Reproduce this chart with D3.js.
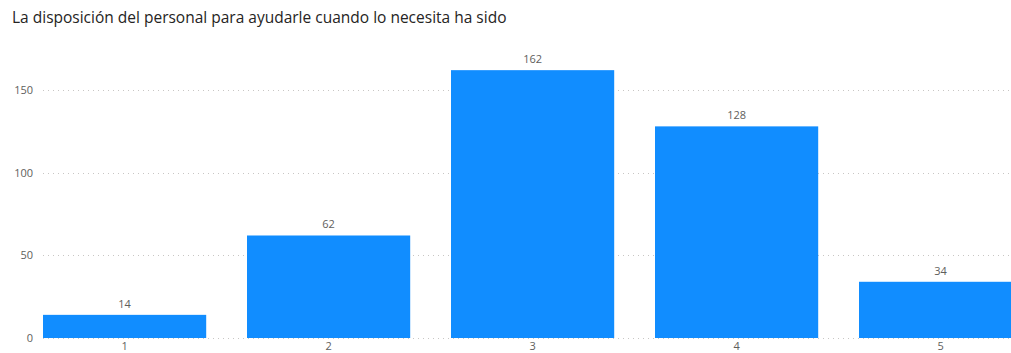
<!DOCTYPE html>
<html>
<head>
<meta charset="utf-8">
<script src="https://cdn.jsdelivr.net/npm/d3@7"></script>
<style>
  html, body { margin: 0; padding: 0; background: #fff; overflow: hidden; }
  svg { display: block; }
</style>
</head>
<body>
<svg id="chart" width="1011" height="353"></svg>
<script>
// Responses per rating
const categories = ["1", "2", "3", "4", "5"];
const counts = [14, 62, 162, 128, 34];
const yTicks = [0, 50, 100, 150];
const title = "La disposición del personal para ayudarle cuando lo necesita ha sido";

const svg = d3.select("#chart");
const W = 1011, H = 353;

const x = d3.scaleBand()
  .domain(categories)
  .range([22.6, 1042.6])
  .paddingInner(0.2)
  .paddingOuter(0.1);

const y = d3.scaleLinear()
  .domain([0, 150])
  .range([338, 90]);

// Title
svg.append("text")
  .attr("x", 12)
  .attr("y", 23)
  .attr("font-family", "'Open Sans', 'Noto Sans', sans-serif")
  .attr("font-size", 15.5)
  .attr("font-weight", 500)
  .attr("fill", "#252423")
  .text(title);

// Dotted gridlines
svg.append("g")
  .selectAll("line")
  .data(yTicks)
  .join("line")
  .attr("x1", 43)
  .attr("x2", W)
  .attr("y1", d => Math.round(y(d)) + 0.5)
  .attr("y2", d => Math.round(y(d)) + 0.5)
  .attr("stroke", "#c8c6c4")
  .attr("stroke-width", 1)
  .attr("stroke-dasharray", "1,4");

// Y axis labels
const yAxis = svg.append("g")
  .attr("transform", "translate(33,0)")
  .call(d3.axisLeft(y).tickValues(yTicks).tickSize(0).tickPadding(0));
yAxis.select(".domain").remove();
yAxis.selectAll("text")
  .attr("font-family", "'Open Sans', 'Noto Sans', sans-serif")
  .attr("font-size", 11)
  .attr("fill", "#605e5c");

// Bars
svg.append("g")
  .selectAll("rect")
  .data(counts)
  .join("rect")
  .attr("x", (d, i) => x(categories[i]))
  .attr("y", d => y(d))
  .attr("width", x.bandwidth())
  .attr("height", d => y(0) - y(d))
  .attr("fill", "#118dff");

// Value labels
svg.append("g")
  .selectAll("text")
  .data(counts)
  .join("text")
  .attr("x", (d, i) => x(categories[i]) + x.bandwidth() / 2)
  .attr("y", d => y(d) - 7)
  .attr("text-anchor", "middle")
  .attr("font-family", "'Open Sans', 'Noto Sans', sans-serif")
  .attr("font-size", 11)
  .attr("fill", "#605e5c")
  .text(d => d);

// X axis labels
const xAxis = svg.append("g")
  .attr("transform", "translate(0,342)")
  .call(d3.axisBottom(x).tickSize(0).tickPadding(0));
xAxis.select(".domain").remove();
xAxis.selectAll("text")
  .attr("dy", "0.71em")
  .attr("font-family", "'Open Sans', 'Noto Sans', sans-serif")
  .attr("font-size", 11)
  .attr("fill", "#605e5c");
</script>
</body>
</html>
